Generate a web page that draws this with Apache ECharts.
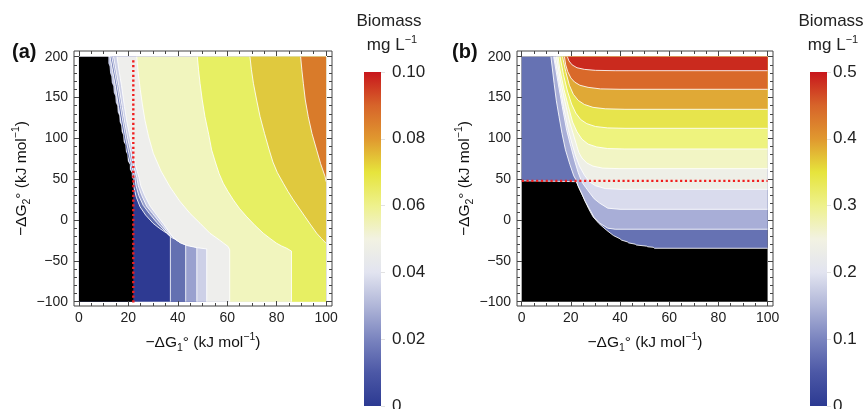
<!DOCTYPE html>
<html>
<head>
<meta charset="utf-8">
<script src="https://cdn.jsdelivr.net/npm/echarts@6/dist/echarts.min.js"></script>
<style>
  html, body { margin: 0; padding: 0; background: #fff; }
  #chart { width: 866px; height: 409px; }
</style>
</head>
<body>
<div id="chart"></div>
<script>
const FONT = '"Liberation Sans", Arial, Helvetica, sans-serif'
const TICK = '#444'
const LINE = 'rgba(255,255,255,0.85)'

// frame ticks, shared by both panels
const xMajor = [0, 20, 40, 60, 80, 100]
const xMinor = [5, 10, 15, 25, 30, 35, 45, 50, 55, 65, 70, 75, 85, 90, 95]
const yMajor = [-100, -50, 0, 50, 100, 150, 200]
const yMinor = [-90, -80, -70, -60, -40, -30, -20, -10, 10, 20, 30, 40, 60, 70, 80, 90,
  110, 120, 130, 140, 160, 170, 180, 190]

// colour bars
const cbTicksA = [0, 0.02, 0.04, 0.06, 0.08, 0.10]
const cbTicksB = [0, 0.1, 0.2, 0.3, 0.4, 0.5]
const cmapStops = [
  [0, '#2c3a92'], [0.1, '#4c58a6'], [0.2, '#7a84bf'], [0.3, '#b0b6d8'],
  [0.4, '#e2e4f0'], [0.5, '#f2f2e2'], [0.6, '#eef18c'], [0.7, '#e6e43c'],
  [0.8, '#e0982f'], [0.9, '#d7642a'], [1, '#c8161c'],
]

// ---- panel (a): contour lines (bottom/right edge -> top edge) ----
const areaRect = [[0, -100], [100, -100], [100, 200], [0, 200]]
const lowRectA = [[0, -100], [100, -100], [100, 50], [0, 50]]
const highRectA = [[0, 50], [100, 50], [100, 200], [0, 200]]
const contourA1 = [[37, -100], [37, -20.4], [35.5, -16.2], [32.5, -10], [30, -4], [27, 6], [24.7, 16.3],
  [23.2, 28], [22.2, 40.8], [21.9, 50], [20.6, 68], [19.3, 82], [18.2, 99], [17, 120], [16, 139],
  [14.7, 165], [13.5, 185], [12.6, 200]]
const contourA2 = [[43.2, -100], [43.2, -29.3], [40, -25], [37.5, -21.5], [35, -14], [31.5, -3],
  [28.5, 8], [26, 18], [24.2, 30], [23.1, 42], [22.6, 52], [21.2, 68], [20.2, 82], [19, 99],
  [17.8, 120], [16.8, 139], [15.4, 165], [14.2, 185], [13.3, 200]]
const contourA3 = [[47.7, -100], [47.7, -33.4], [45, -31.5], [42.5, -29.5], [39.5, -25], [36.5, -17],
  [33, -4], [29.8, 8], [27.4, 17], [25.4, 30], [24, 42], [23.4, 52], [21.9, 68], [21.1, 82], [19.8, 99],
  [18.5, 120], [17.5, 139], [16.1, 165], [14.9, 185], [14, 200]]
const contourA4 = [[51.7, -100], [51.7, -35.4], [48, -34], [44, -31.5], [41, -28], [38, -21], [34.5, -6],
  [31.5, 6], [28.8, 17], [26.6, 30], [25, 42], [24.3, 52], [22.8, 68], [22.1, 82], [20.8, 99],
  [19.4, 120], [18.4, 139], [17.2, 165], [16.1, 185], [15.4, 200]]
const contourA5 = [[61, -100], [61, -36.5], [60.4, -32.6], [57, -24.8], [53, -16.2], [49, -4],
  [44.9, 8.2], [40.7, 23.5], [36.8, 40.8], [33.2, 60], [30.1, 81.7], [28.2, 102], [26.7, 122.5],
  [25.7, 141], [24.8, 160], [24, 180], [23.4, 200]]
const contourA6 = [[86, -100], [86, -38], [85.4, -37], [84.1, -34.6], [82, -31.8], [80, -28.5],
  [77.3, -22.5], [74.6, -16.2], [71.2, -6.5], [67.9, 4], [65, 14], [62.5, 24.5], [60.3, 35],
  [58.4, 45], [56.7, 57], [55.2, 71], [53.7, 85.8], [52.5, 105], [51, 126.5], [49.9, 147],
  [49, 167.4], [48.4, 184], [47.9, 200]]
const contourA7 = [[100, -28.5], [98.1, -22.5], [96.2, -16.2], [93.8, -6], [91.5, 4], [89.1, 14.5],
  [86.8, 24.5], [84.6, 35], [82.7, 45], [80.3, 58], [78.5, 71], [77, 85.8], [75.1, 106], [73.3, 126.5],
  [71.9, 147], [70.6, 167.4], [69.8, 184], [69.2, 200]]
const contourA8 = [[100, 47], [99.6, 53.2], [97.8, 69], [96.2, 85.8], [94.3, 106], [92.8, 126.5],
  [91.6, 147], [90.8, 167.4], [90.2, 184], [89.7, 200]]
const blackEdgeA = [[0, -100], [22, -100], [22, 50], [21.4, 52], [21.4, 58], [20.6, 62], [20.6, 68],
  [19.8, 72], [19.6, 80], [19, 84], [18.8, 92], [18.1, 96], [17.9, 104], [17.3, 108], [17.1, 116],
  [16.5, 120], [16.3, 128], [15.7, 132], [15.5, 140], [14.9, 144], [14.7, 152], [14.1, 156],
  [13.9, 164], [13.3, 168], [13.1, 176], [12.6, 180], [12.4, 188], [11.9, 192], [11.9, 200], [0, 200]]
const bandColorsA = ['#2e3a92', '#6470b1', '#9aa1cf', '#cdd0e7', '#eeeeec', '#f1f5be',
  '#e7ef63', '#e0c93e', '#d97b2a']
const crowdColorA = '#c4c8e3'
const refLineA = [[22, -101], [22, 197]]

// ---- panel (b) ----
const contourB1 = [[100, -34.6], [54, -34.6], [53.5, -33.4], [51.3, -32.8], [50.8, -32], [46.6, -30.6],
  [46.2, -29.6], [43.5, -28], [43, -26.8], [40.5, -24.5], [40, -23], [37.3, -19], [34.4, -12.2],
  [31.5, -4.5], [29, 4], [27.2, 14], [25.6, 24.5], [23.8, 36], [22.2, 47], [0, 48]]
const contourB2 = [[100, -11.3], [38, -11.3], [35, -10], [31.8, -4], [29.5, 3], [27.8, 12.3],
  [25.8, 23], [24.4, 32.7], [22.9, 42], [22.3, 48], [21.2, 54], [19.6, 68], [17.8, 86], [16.4, 106],
  [15.2, 126.5], [14.1, 146], [13.2, 167], [11.9, 200]]
const contourB3 = [[100, 13.1], [40, 13.1], [35, 14.5], [31.8, 20.5], [29.5, 26], [27.8, 32.7],
  [26, 40], [24.4, 47], [23, 58], [21.6, 72], [20, 90], [18.3, 110], [16.5, 139], [14.7, 170], [13, 200]]
const contourB4 = [[100, 37.6], [40, 37.6], [34, 38.5], [30, 42], [27.5, 47], [25.5, 55], [23.5, 66],
  [22, 78], [20.6, 92], [19, 110], [17, 139], [15.2, 170], [13.4, 200]]
const contourB5 = [[100, 62.9], [40, 62.9], [33, 63.5], [29, 66], [26.4, 70], [24.5, 76], [23.2, 83],
  [21.7, 98], [19.5, 120], [17.6, 145], [15.8, 170], [14.2, 200]]
const contourB6 = [[100, 87], [42, 87], [35, 87.5], [30.5, 89.5], [27, 93], [24.5, 99], [22.5, 108],
  [20.7, 120], [19, 139], [17.2, 160], [15.5, 185], [14.8, 200]]
const contourB7 = [[100, 112.3], [42, 112.3], [35, 112.8], [30, 114.5], [26.5, 118], [24, 123],
  [22, 131], [20.3, 142], [18.6, 158], [17, 178], [15.6, 200]]
const contourB8 = [[100, 135.6], [42, 135.6], [34, 136.2], [29, 138], [25.5, 141.5], [23, 146.5],
  [21, 154], [19.4, 165], [17.9, 182], [16.6, 200]]
const contourB9 = [[100, 160.1], [40, 160.1], [32, 160.6], [27, 162.5], [23.7, 165], [21.5, 169],
  [20, 174], [18.7, 182], [17.9, 190], [17.4, 200]]
const contourB10 = [[100, 182.9], [38, 182.9], [30, 183.3], [25.5, 184.5], [22.5, 186.5], [20.5, 190],
  [19.2, 195], [18.6, 200]]
const bandColorsB = ['#000000', '#6672b3', '#a8aed7', '#d9dbed', '#eeefe7', '#f2f5c4', '#eef37e',
  '#e7e44c', '#e0a936', '#d9692a', '#ca2a1e']
const refLineB = [[0, 48], [100, 48]]

const chart = echarts.init(document.getElementById('chart'))

let zNext = 2
function contourSeries(gi, pts, closing, fill, stroke) {
  return {
    type: 'custom',
    xAxisIndex: gi * 4,
    yAxisIndex: gi * 4,
    data: pts,
    silent: true,
    z: zNext++,
    renderItem: (params, api) => {
      if (params.dataIndex !== 0) return null
      const line = pts.map(p => api.coord(p))
      const poly = line.concat(closing.map(p => api.coord(p)))
      const children = [{ type: 'polygon', shape: { points: poly }, style: { fill } }]
      if (stroke) {
        children.push({ type: 'polyline', shape: { points: line }, style: { fill: null, stroke: LINE, lineWidth: 1 } })
      }
      return { type: 'group', children }
    },
  }
}

function refLine(gi, pts) {
  return {
    type: 'line', xAxisIndex: gi * 4, yAxisIndex: gi * 4, data: pts, symbol: 'none', silent: true, z: 50,
    lineStyle: { color: '#f01e1e', width: 2.4, type: [2.2, 2.6] },
  }
}

const titleRich = {
  t: { fontSize: 15.5, fontFamily: FONT, color: '#111', lineHeight: 22 },
  sub: { fontSize: 10.5, fontFamily: FONT, color: '#111', lineHeight: 12, verticalAlign: 'bottom' },
  sup: { fontSize: 10.5, fontFamily: FONT, color: '#111', lineHeight: 12, verticalAlign: 'top' },
}

function xAxes(gi, min, max) {
  const base = {
    type: 'value', gridIndex: gi, min, max, z: 20,
    axisLine: { show: false, onZero: false }, splitLine: { show: false },
  }
  const tick = (vals, len) => ({ show: true, inside: true, length: len, lineStyle: { color: TICK }, customValues: vals })
  return [
    Object.assign({}, base, {
      position: 'bottom',
      name: '{t|\u2212\u0394G}{sub|1}{t|\u00b0 (kJ mol}{sup|\u22121}{t|)}',
      nameLocation: 'middle', nameGap: 26, nameTextStyle: { rich: titleRich },
      axisTick: tick(xMajor, 5),
      axisLabel: { customValues: xMajor, color: '#222', fontSize: 14, fontFamily: FONT, margin: 5 },
    }),
    Object.assign({}, base, { position: 'bottom', axisTick: tick(xMinor, 3), axisLabel: { show: false } }),
    Object.assign({}, base, { position: 'top', axisTick: tick(xMajor, 5), axisLabel: { show: false } }),
    Object.assign({}, base, { position: 'top', axisTick: tick(xMinor, 3), axisLabel: { show: false } }),
  ]
}

function yAxes(gi, min, max) {
  const base = {
    type: 'value', gridIndex: gi, min, max, z: 20,
    axisLine: { show: false, onZero: false }, splitLine: { show: false },
  }
  const tick = (vals, len) => ({ show: true, inside: true, length: len, lineStyle: { color: TICK }, customValues: vals })
  return [
    Object.assign({}, base, {
      position: 'left',
      name: '{t|\u2212\u0394G}{sub|2}{t|\u00b0 (kJ mol}{sup|\u22121}{t|)}',
      nameLocation: 'middle', nameGap: 40, nameTextStyle: { rich: titleRich },
      axisTick: tick(yMajor, 5),
      axisLabel: {
        customValues: yMajor, color: '#222', fontSize: 14, fontFamily: FONT, margin: 6,
        formatter: v => String(v).replace('-', '\u2212'),
      },
    }),
    Object.assign({}, base, { position: 'left', axisTick: tick(yMinor, 3), axisLabel: { show: false } }),
    Object.assign({}, base, { position: 'right', axisTick: tick(yMajor, 5), axisLabel: { show: false } }),
    Object.assign({}, base, { position: 'right', axisTick: tick(yMinor, 3), axisLabel: { show: false } }),
  ]
}

function cbAxis(gi, max, ticks, digits, margin) {
  return {
    type: 'value', gridIndex: gi, min: 0, max, position: 'right',
    axisLine: { show: false, onZero: false }, splitLine: { show: false },
    axisTick: { show: true, length: 4, lineStyle: { color: '#e2e2e2' }, customValues: ticks },
    axisLabel: {
      customValues: ticks, color: '#222', fontSize: 17, fontFamily: FONT, margin,
      formatter: v => (v === 0 ? '0' : v.toFixed(digits)),
    },
  }
}

const gradient = new echarts.graphic.LinearGradient(0, 1, 0, 0,
  cmapStops.map(s => ({ offset: s[0], color: s[1] })))

const frame = { show: true, borderColor: '#444', borderWidth: 1, backgroundColor: 'transparent', outerBoundsMode: 'none' }

const seriesA = [
  contourSeries(0, lowRectA, [], bandColorsA[0], false),
  contourSeries(0, highRectA, [], crowdColorA, false),
  contourSeries(0, contourA1, [[100, 200], [100, -100]], bandColorsA[1], true),
  contourSeries(0, contourA2, [[100, 200], [100, -100]], bandColorsA[2], true),
  contourSeries(0, contourA3, [[100, 200], [100, -100]], bandColorsA[3], true),
  contourSeries(0, contourA4, [[100, 200], [100, -100]], bandColorsA[4], true),
  contourSeries(0, contourA5, [[100, 200], [100, -100]], bandColorsA[5], true),
  contourSeries(0, contourA6, [[100, 200], [100, -100]], bandColorsA[6], true),
  contourSeries(0, contourA7, [[100, 200]], bandColorsA[7], true),
  contourSeries(0, contourA8, [[100, 200]], bandColorsA[8], true),
  contourSeries(0, blackEdgeA, [], '#000000', false),
  refLine(0, refLineA),
]

const contoursB = [contourB1, contourB2, contourB3, contourB4, contourB5, contourB6,
  contourB7, contourB8, contourB9, contourB10]
const seriesB = [contourSeries(1, areaRect, [], bandColorsB[0], false)]
contoursB.forEach((c, i) => {
  const closing = i === 0 ? [[0, 200], [100, 200]] : [[100, 200]]
  seriesB.push(contourSeries(1, c, closing, bandColorsB[i + 1], true))
})
seriesB.push(refLine(1, refLineB))

const headRich = {
  t: { fontSize: 17, fontFamily: FONT, fill: '#222', lineHeight: 22 },
  sup: { fontSize: 11, fontFamily: FONT, fill: '#222', lineHeight: 12, verticalAlign: 'top' },
}
function heading(x, y, text) {
  return { type: 'text', x, y, style: { text, rich: headRich, align: 'center', verticalAlign: 'middle', fontSize: 17, fontFamily: FONT, fill: '#222' } }
}

chart.setOption({
  animation: false,
  backgroundColor: '#fff',
  grid: [
    Object.assign({ left: 74, top: 51, width: 258, height: 255 }, frame),
    Object.assign({ left: 517, top: 51, width: 256, height: 255 }, frame),
    { left: 364, top: 72, width: 17, height: 334, outerBoundsMode: 'none' },
    { left: 810, top: 72, width: 17, height: 334, outerBoundsMode: 'none' },
  ],
  xAxis: [
    ...xAxes(0, -2, 102.4),
    ...xAxes(1, -1.9, 102.2),
    { type: 'category', gridIndex: 2, data: [''], show: false },
    { type: 'category', gridIndex: 3, data: [''], show: false },
  ],
  yAxis: [
    ...yAxes(0, -105.3, 207),
    ...yAxes(1, -105.3, 207),
    cbAxis(2, 0.1, cbTicksA, 2, 11),
    cbAxis(3, 0.5, cbTicksB, 1, 6),
  ],
  graphic: [
    { type: 'text', x: 12, y: 52, style: { text: '(a)', fontSize: 20, fontWeight: 'bold', fontFamily: FONT, fill: '#111', verticalAlign: 'middle' } },
    { type: 'text', x: 452, y: 52, style: { text: '(b)', fontSize: 20, fontWeight: 'bold', fontFamily: FONT, fill: '#111', verticalAlign: 'middle' } },
    heading(389, 21, '{t|Biomass}'),
    heading(392, 45, '{t|mg L}{sup|\u22121}'),
    heading(831, 21, '{t|Biomass}'),
    heading(833, 45, '{t|mg L}{sup|\u22121}'),
  ],
  series: [
    ...seriesA,
    ...seriesB,
    {
      type: 'bar', xAxisIndex: 8, yAxisIndex: 8, data: [0.1], barWidth: '100%', silent: true,
      itemStyle: { color: gradient },
    },
    {
      type: 'bar', xAxisIndex: 9, yAxisIndex: 9, data: [0.5], barWidth: '100%', silent: true,
      itemStyle: { color: gradient },
    },
  ],
})
</script>
</body>
</html>
